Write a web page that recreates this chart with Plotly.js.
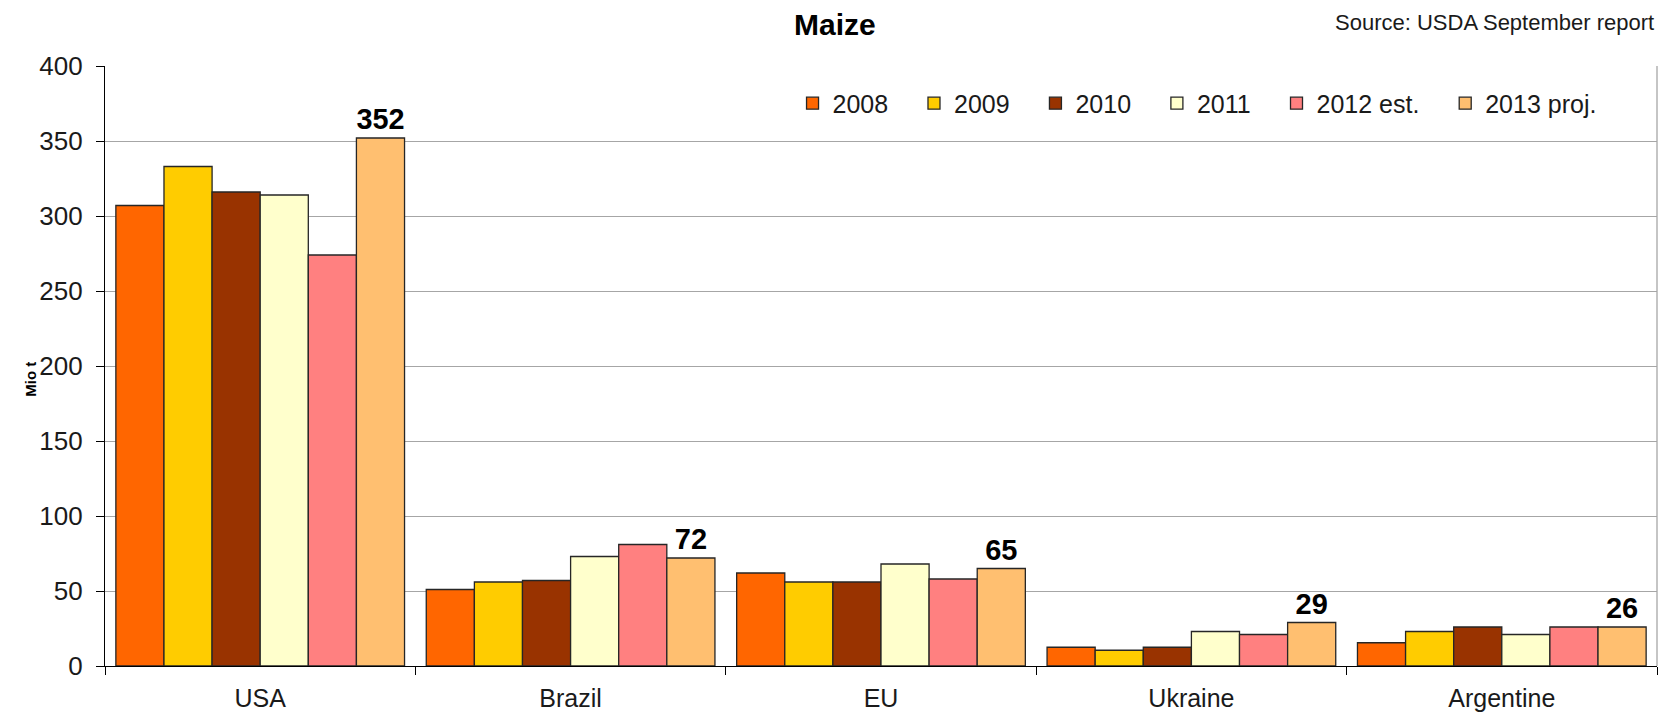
<!DOCTYPE html>
<html>
<head>
<meta charset="utf-8">
<script src="https://cdn.plot.ly/plotly-3.0.1.min.js"></script>
<style>html,body{margin:0;padding:0;background:#fff;}#chart{width:1673px;height:715px;}</style>
</head>
<body>
<div id="chart"></div>
<script>
const categories = ["USA", "Brazil", "EU", "Ukraine", "Argentine"];
const seriesNames = ["2008", "2009", "2010", "2011", "2012 est.", "2013 proj."];
const v2008 = [307, 51, 62, 12.5, 15.5];
const v2009 = [333, 56, 56, 10.5, 23];
const v2010 = [316, 57, 56, 12.5, 26];
const v2011 = [314, 73, 68, 23, 21];
const v2012 = [274, 81, 58, 21, 26];
const v2013 = [352, 72, 65, 29, 26];
const colors = ["#FF6600", "#FFCC00", "#993300", "#FFFFCC", "#FF8080", "#FFBF70"];
const yTicks = [0, 50, 100, 150, 200, 250, 300, 350, 400];

const allValues = [v2008, v2009, v2010, v2011, v2012, v2013];
const font = "Liberation Sans, Arial, sans-serif";
const legendPad = "\u00a0\u00a0\u00a0";

const traces = allValues.map((vals, i) => {
  const t = {
    type: "bar",
    name: seriesNames[i] + legendPad,
    x: categories,
    y: vals,
    marker: {color: colors[i], line: {color: "#262626", width: 1.3}},
    hoverinfo: "x+y"
  };
  if (i === allValues.length - 1) {
    t.text = vals.map(v => String(Math.round(v)));
    t.textposition = "outside";
    t.cliponaxis = false;
    t.textfont = {family: font, size: 29, color: "#000", weight: "bold"};
  } else {
    t.textposition = "none";
  }
  return t;
});

const layout = {
  width: 1673,
  height: 715,
  margin: {l: 105, r: 16, t: 66, b: 49},
  paper_bgcolor: "#fff",
  plot_bgcolor: "#fff",
  barmode: "group",
  bargap: 0.07,
  bargroupgap: 0,
  showlegend: true,
  font: {family: font, color: "#1a1a1a"},
  title: {
    text: "<b>Maize</b>",
    font: {family: font, size: 30, color: "#000"},
    x: 0.499, xref: "container", xanchor: "center",
    y: 0.966, yref: "container", yanchor: "middle"
  },
  legend: {
    orientation: "h",
    x: 0.443, xanchor: "left",
    y: 0.976, yanchor: "top",
    font: {family: font, size: 25, color: "#1a1a1a"},
    bgcolor: "rgba(0,0,0,0)",
    itemwidth: 30,
    traceorder: "normal"
  },
  xaxis: {
    type: "category",
    showline: true, linecolor: "#000", linewidth: 1.3,
    ticks: "outside", tickson: "boundaries", ticklen: 8, tickcolor: "#000", tickwidth: 1.3,
    tickfont: {family: font, size: 25, color: "#1a1a1a"},
    ticklabelstandoff: 10,
    showgrid: false,
    fixedrange: true
  },
  yaxis: {
    range: [0, 400],
    tickvals: yTicks,
    ticktext: yTicks.map(String),
    showline: true, linecolor: "#000", linewidth: 1.3,
    ticks: "outside", ticklen: 8, tickcolor: "#000", tickwidth: 1.3,
    tickfont: {family: font, size: 26, color: "#1a1a1a"},
    ticklabelstandoff: 8,
    showgrid: true, gridcolor: "#a6a6a6", gridwidth: 1.3,
    zeroline: false,
    fixedrange: true
  },
  shapes: [
    {type: "line", xref: "paper", yref: "paper", x0: 1, x1: 1, y0: 0, y1: 1,
     line: {color: "#a6a6a6", width: 1.3}}
  ],
  annotations: [
    {text: "<b>Mio t</b>", xref: "paper", yref: "paper", x: -0.0548, y: 0.478,
     textangle: -90, showarrow: false, font: {family: font, size: 15, color: "#000"}},
    {text: "Source: USDA September report", xref: "paper", yref: "paper",
     x: 0.9995, xanchor: "right", y: 1.0717, yanchor: "middle", showarrow: false,
     font: {family: font, size: 22, color: "#1a1a1a"}}
  ]
};

Plotly.newPlot("chart", traces, layout, {displayModeBar: false, responsive: false});
</script>
</body>
</html>
